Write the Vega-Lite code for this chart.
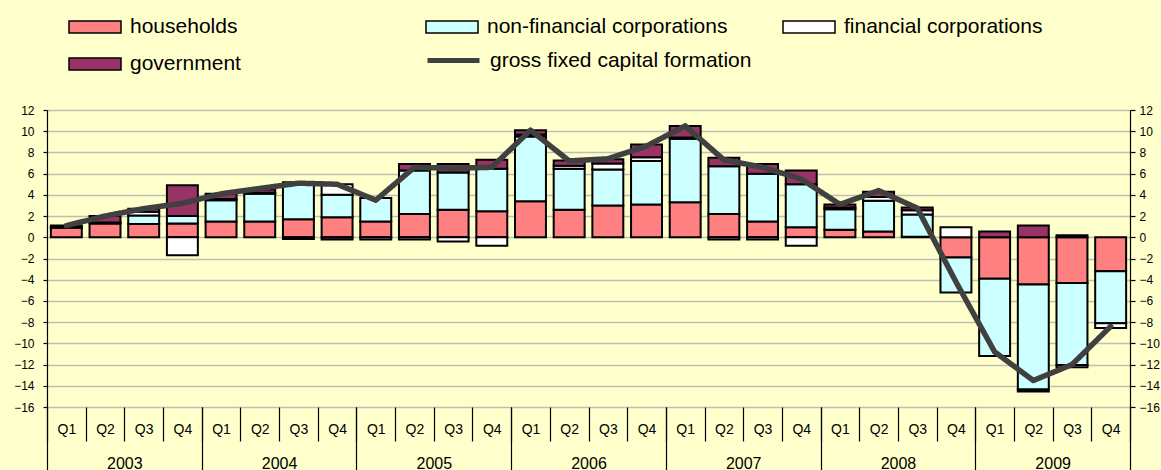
{
  "$schema": "https://vega.github.io/schema/vega-lite/v6.json",
  "width": 1083,
  "height": 297,
  "autosize": {"type": "none"},
  "padding": {"left": 47, "top": 110, "right": 31, "bottom": 63},
  "background": "#FFFFCC",
  "config": {"view": {"stroke": null}, "font": "Liberation Sans"},
  "datasets": {
    "sectors": [
      {"period": "2003 Q1", "sector": "households", "ord": 1, "value": 0.9},
      {"period": "2003 Q1", "sector": "non-financial corporations", "ord": 2, "value": 0.1},
      {"period": "2003 Q1", "sector": "government", "ord": 4, "value": 0.1},
      {"period": "2003 Q2", "sector": "households", "ord": 1, "value": 1.3},
      {"period": "2003 Q2", "sector": "non-financial corporations", "ord": 2, "value": 0.1},
      {"period": "2003 Q2", "sector": "government", "ord": 4, "value": 0.6},
      {"period": "2003 Q3", "sector": "households", "ord": 1, "value": 1.25},
      {"period": "2003 Q3", "sector": "non-financial corporations", "ord": 2, "value": 0.8},
      {"period": "2003 Q3", "sector": "financial corporations", "ord": 3, "value": 0.35},
      {"period": "2003 Q3", "sector": "government", "ord": 4, "value": 0.3},
      {"period": "2003 Q4", "sector": "households", "ord": 1, "value": 1.3},
      {"period": "2003 Q4", "sector": "non-financial corporations", "ord": 2, "value": 0.7},
      {"period": "2003 Q4", "sector": "financial corporations", "ord": 3, "value": -1.7},
      {"period": "2003 Q4", "sector": "government", "ord": 4, "value": 2.9},
      {"period": "2004 Q1", "sector": "households", "ord": 1, "value": 1.5},
      {"period": "2004 Q1", "sector": "non-financial corporations", "ord": 2, "value": 2.0},
      {"period": "2004 Q1", "sector": "financial corporations", "ord": 3, "value": 0.1},
      {"period": "2004 Q1", "sector": "government", "ord": 4, "value": 0.5},
      {"period": "2004 Q2", "sector": "households", "ord": 1, "value": 1.5},
      {"period": "2004 Q2", "sector": "non-financial corporations", "ord": 2, "value": 2.6},
      {"period": "2004 Q2", "sector": "financial corporations", "ord": 3, "value": 0.1},
      {"period": "2004 Q2", "sector": "government", "ord": 4, "value": 0.3},
      {"period": "2004 Q3", "sector": "households", "ord": 1, "value": 1.7},
      {"period": "2004 Q3", "sector": "non-financial corporations", "ord": 2, "value": 3.4},
      {"period": "2004 Q3", "sector": "financial corporations", "ord": 3, "value": -0.15},
      {"period": "2004 Q3", "sector": "government", "ord": 4, "value": 0.1},
      {"period": "2004 Q4", "sector": "households", "ord": 1, "value": 1.9},
      {"period": "2004 Q4", "sector": "non-financial corporations", "ord": 2, "value": 2.1},
      {"period": "2004 Q4", "sector": "financial corporations", "ord": 3, "value": 1.0},
      {"period": "2004 Q4", "sector": "government", "ord": 4, "value": -0.2},
      {"period": "2005 Q1", "sector": "households", "ord": 1, "value": 1.5},
      {"period": "2005 Q1", "sector": "non-financial corporations", "ord": 2, "value": 2.2},
      {"period": "2005 Q1", "sector": "financial corporations", "ord": 3, "value": -0.2},
      {"period": "2005 Q2", "sector": "households", "ord": 1, "value": 2.2},
      {"period": "2005 Q2", "sector": "non-financial corporations", "ord": 2, "value": 4.1},
      {"period": "2005 Q2", "sector": "financial corporations", "ord": 3, "value": -0.2},
      {"period": "2005 Q2", "sector": "government", "ord": 4, "value": 0.6},
      {"period": "2005 Q3", "sector": "households", "ord": 1, "value": 2.6},
      {"period": "2005 Q3", "sector": "non-financial corporations", "ord": 2, "value": 3.5},
      {"period": "2005 Q3", "sector": "financial corporations", "ord": 3, "value": -0.4},
      {"period": "2005 Q3", "sector": "government", "ord": 4, "value": 0.8},
      {"period": "2005 Q4", "sector": "households", "ord": 1, "value": 2.45},
      {"period": "2005 Q4", "sector": "non-financial corporations", "ord": 2, "value": 4.0},
      {"period": "2005 Q4", "sector": "financial corporations", "ord": 3, "value": -0.8},
      {"period": "2005 Q4", "sector": "government", "ord": 4, "value": 0.85},
      {"period": "2006 Q1", "sector": "households", "ord": 1, "value": 3.4},
      {"period": "2006 Q1", "sector": "non-financial corporations", "ord": 2, "value": 6.1},
      {"period": "2006 Q1", "sector": "financial corporations", "ord": 3, "value": 0.2},
      {"period": "2006 Q1", "sector": "government", "ord": 4, "value": 0.4},
      {"period": "2006 Q2", "sector": "households", "ord": 1, "value": 2.6},
      {"period": "2006 Q2", "sector": "non-financial corporations", "ord": 2, "value": 3.85},
      {"period": "2006 Q2", "sector": "financial corporations", "ord": 3, "value": 0.3},
      {"period": "2006 Q2", "sector": "government", "ord": 4, "value": 0.5},
      {"period": "2006 Q3", "sector": "households", "ord": 1, "value": 3.0},
      {"period": "2006 Q3", "sector": "non-financial corporations", "ord": 2, "value": 3.4},
      {"period": "2006 Q3", "sector": "financial corporations", "ord": 3, "value": 0.55},
      {"period": "2006 Q3", "sector": "government", "ord": 4, "value": 0.4},
      {"period": "2006 Q4", "sector": "households", "ord": 1, "value": 3.1},
      {"period": "2006 Q4", "sector": "non-financial corporations", "ord": 2, "value": 4.1},
      {"period": "2006 Q4", "sector": "financial corporations", "ord": 3, "value": 0.35},
      {"period": "2006 Q4", "sector": "government", "ord": 4, "value": 1.2},
      {"period": "2007 Q1", "sector": "households", "ord": 1, "value": 3.3},
      {"period": "2007 Q1", "sector": "non-financial corporations", "ord": 2, "value": 6.0},
      {"period": "2007 Q1", "sector": "financial corporations", "ord": 3, "value": 0.1},
      {"period": "2007 Q1", "sector": "government", "ord": 4, "value": 1.1},
      {"period": "2007 Q2", "sector": "households", "ord": 1, "value": 2.2},
      {"period": "2007 Q2", "sector": "non-financial corporations", "ord": 2, "value": 4.5},
      {"period": "2007 Q2", "sector": "financial corporations", "ord": 3, "value": -0.2},
      {"period": "2007 Q2", "sector": "government", "ord": 4, "value": 0.8},
      {"period": "2007 Q3", "sector": "households", "ord": 1, "value": 1.5},
      {"period": "2007 Q3", "sector": "non-financial corporations", "ord": 2, "value": 4.5},
      {"period": "2007 Q3", "sector": "financial corporations", "ord": 3, "value": -0.2},
      {"period": "2007 Q3", "sector": "government", "ord": 4, "value": 0.9},
      {"period": "2007 Q4", "sector": "households", "ord": 1, "value": 0.95},
      {"period": "2007 Q4", "sector": "non-financial corporations", "ord": 2, "value": 4.05},
      {"period": "2007 Q4", "sector": "financial corporations", "ord": 3, "value": -0.8},
      {"period": "2007 Q4", "sector": "government", "ord": 4, "value": 1.3},
      {"period": "2008 Q1", "sector": "households", "ord": 1, "value": 0.7},
      {"period": "2008 Q1", "sector": "non-financial corporations", "ord": 2, "value": 1.95},
      {"period": "2008 Q1", "sector": "financial corporations", "ord": 3, "value": 0.15},
      {"period": "2008 Q1", "sector": "government", "ord": 4, "value": 0.3},
      {"period": "2008 Q2", "sector": "households", "ord": 1, "value": 0.55},
      {"period": "2008 Q2", "sector": "non-financial corporations", "ord": 2, "value": 2.9},
      {"period": "2008 Q2", "sector": "financial corporations", "ord": 3, "value": 0.35},
      {"period": "2008 Q2", "sector": "government", "ord": 4, "value": 0.5},
      {"period": "2008 Q3", "sector": "households", "ord": 1, "value": 0.05},
      {"period": "2008 Q3", "sector": "non-financial corporations", "ord": 2, "value": 2.1},
      {"period": "2008 Q3", "sector": "financial corporations", "ord": 3, "value": 0.4},
      {"period": "2008 Q3", "sector": "government", "ord": 4, "value": 0.25},
      {"period": "2008 Q4", "sector": "households", "ord": 1, "value": -1.9},
      {"period": "2008 Q4", "sector": "non-financial corporations", "ord": 2, "value": -3.3},
      {"period": "2008 Q4", "sector": "financial corporations", "ord": 3, "value": 0.95},
      {"period": "2009 Q1", "sector": "households", "ord": 1, "value": -3.9},
      {"period": "2009 Q1", "sector": "non-financial corporations", "ord": 2, "value": -7.3},
      {"period": "2009 Q1", "sector": "government", "ord": 4, "value": 0.55},
      {"period": "2009 Q2", "sector": "households", "ord": 1, "value": -4.45},
      {"period": "2009 Q2", "sector": "non-financial corporations", "ord": 2, "value": -9.9},
      {"period": "2009 Q2", "sector": "financial corporations", "ord": 3, "value": -0.2},
      {"period": "2009 Q2", "sector": "government", "ord": 4, "value": 1.1},
      {"period": "2009 Q3", "sector": "households", "ord": 1, "value": -4.3},
      {"period": "2009 Q3", "sector": "non-financial corporations", "ord": 2, "value": -7.75},
      {"period": "2009 Q3", "sector": "financial corporations", "ord": 3, "value": -0.2},
      {"period": "2009 Q3", "sector": "government", "ord": 4, "value": 0.2},
      {"period": "2009 Q4", "sector": "households", "ord": 1, "value": -3.2},
      {"period": "2009 Q4", "sector": "non-financial corporations", "ord": 2, "value": -4.9},
      {"period": "2009 Q4", "sector": "financial corporations", "ord": 3, "value": -0.45}
    ],
    "gfcf": [
      {"period": "2003 Q1", "value": 1.1},
      {"period": "2003 Q2", "value": 2.0},
      {"period": "2003 Q3", "value": 2.7},
      {"period": "2003 Q4", "value": 3.2},
      {"period": "2004 Q1", "value": 4.1},
      {"period": "2004 Q2", "value": 4.6},
      {"period": "2004 Q3", "value": 5.1},
      {"period": "2004 Q4", "value": 5.0},
      {"period": "2005 Q1", "value": 3.5},
      {"period": "2005 Q2", "value": 6.6},
      {"period": "2005 Q3", "value": 6.5},
      {"period": "2005 Q4", "value": 6.6},
      {"period": "2006 Q1", "value": 10.1},
      {"period": "2006 Q2", "value": 7.2},
      {"period": "2006 Q3", "value": 7.4},
      {"period": "2006 Q4", "value": 8.6},
      {"period": "2007 Q1", "value": 10.5},
      {"period": "2007 Q2", "value": 7.3},
      {"period": "2007 Q3", "value": 6.6},
      {"period": "2007 Q4", "value": 5.5},
      {"period": "2008 Q1", "value": 3.1},
      {"period": "2008 Q2", "value": 4.4},
      {"period": "2008 Q3", "value": 2.75},
      {"period": "2008 Q4", "value": -4.2},
      {"period": "2009 Q1", "value": -10.8},
      {"period": "2009 Q2", "value": -13.5},
      {"period": "2009 Q3", "value": -12.0},
      {"period": "2009 Q4", "value": -8.4}
    ]
  },
  "layer": [
    {
      "data": {"name": "sectors"},
      "mark": {"type": "bar", "width": {"band": 0.8}, "stroke": "black", "strokeWidth": 2},
      "encoding": {
        "x": {
          "field": "period", "type": "nominal",
          "scale": {"paddingInner": 0, "paddingOuter": 0},
          "axis": {
            "orient": "bottom", "title": null, "domain": false, "grid": false,
            "tickBand": "extent", "tickSize": 34, "tickColor": "black", "tickWidth": 1.2,
            "labelExpr": "datum.value ? substring(datum.value, 5) : ''",
            "labelAngle": 0, "labelAlign": "center", "labelBaseline": "top", "labelOverlap": false,
            "labelFont": "Liberation Sans", "labelFontSize": 14, "labelColor": "black",
            "labelPadding": -19
          }
        },
        "y": {
          "field": "value", "type": "quantitative", "stack": "zero",
          "scale": {"domain": [-16, 12], "nice": false, "zero": false},
          "axis": {
            "orient": "left", "title": null, "values": [-16, -14, -12, -10, -8, -6, -4, -2, 0, 2, 4, 6, 8, 10, 12],
            "grid": true, "gridColor": "#BEBEB4", "gridWidth": 1.5,
            "domainColor": "black", "domainWidth": 1.2,
            "tickColor": "black", "tickSize": 4, "tickWidth": 1.2,
            "labelPadding": 9, "labelFont": "Liberation Sans", "labelFontSize": 12, "labelColor": "black"
          }
        },
        "color": {
          "field": "sector", "type": "nominal",
          "scale": {
            "domain": ["households", "non-financial corporations", "financial corporations", "government"],
            "range": ["#FF8080", "#CCFFFF", "#FFFFFF", "#993366"]
          },
          "legend": {
            "title": null, "orient": "none", "direction": "horizontal", "legendX": 21, "legendY": -110,
            "columns": 3, "gridAlign": "all", "columnPadding": 52, "rowPadding": -19.5, "padding": 0,
            "symbolSize": 2704, "labelFontSize": 21, "labelFont": "Liberation Sans", "labelColor": "black",
            "labelOffset": 8, "labelLimit": 0,
            "symbolType": "M-1,-0.23H1V0.23H-1Z",
            "symbolStrokeColor": "black", "symbolStrokeWidth": 1.5
          }
        },
        "order": {"field": "ord", "type": "quantitative"}
      }
    },
    {
      "data": {"name": "gfcf"},
      "mark": {"type": "line", "color": "#404040", "strokeWidth": 5.5, "strokeJoin": "round", "strokeCap": "round"},
      "encoding": {
        "x": {
          "field": "period", "type": "nominal",
          "axis": {
            "orient": "bottom", "title": null, "domain": false, "grid": false,
            "tickBand": "extent", "tickSize": 64, "tickWidth": 1.2,
            "tickColor": {"condition": {"test": "!datum.value || indexof(datum.value, 'Q4') >= 0", "value": "black"}, "value": "transparent"},
            "labelExpr": "datum.value && indexof(datum.value, 'Q2') >= 0 ? substring(datum.value, 0, 4) : ''",
            "labelAngle": 0, "labelAlign": "center", "labelBaseline": "top", "labelOverlap": false,
            "labelOffset": 19.35, "labelPadding": -16,
            "labelFont": "Liberation Sans", "labelFontSize": 16, "labelColor": "black"
          }
        },
        "y": {
          "field": "value", "type": "quantitative",
          "axis": {
            "orient": "right", "title": null, "values": [-16, -14, -12, -10, -8, -6, -4, -2, 0, 2, 4, 6, 8, 10, 12],
            "grid": false, "domainColor": "black", "domainWidth": 1.2,
            "tickColor": "black", "tickSize": 5, "tickWidth": 1.2,
            "labelPadding": 4, "labelFont": "Liberation Sans", "labelFontSize": 12, "labelColor": "black"
          }
        },
        "strokeDash": {
          "datum": "gross fixed capital formation", "type": "nominal",
          "scale": {"domain": ["gross fixed capital formation"], "range": [[1, 0]]},
          "legend": {
            "title": null, "orient": "none", "legendX": 378, "legendY": -78, "padding": 0,
            "symbolType": "stroke", "symbolSize": 2704, "symbolStrokeWidth": 5, "symbolStrokeColor": "#404040",
            "labelFontSize": 21, "labelFont": "Liberation Sans", "labelColor": "black",
            "labelOffset": 8, "labelLimit": 0
          }
        }
      }
    }
  ],
  "resolve": {"axis": {"x": "independent", "y": "independent"}}
}
